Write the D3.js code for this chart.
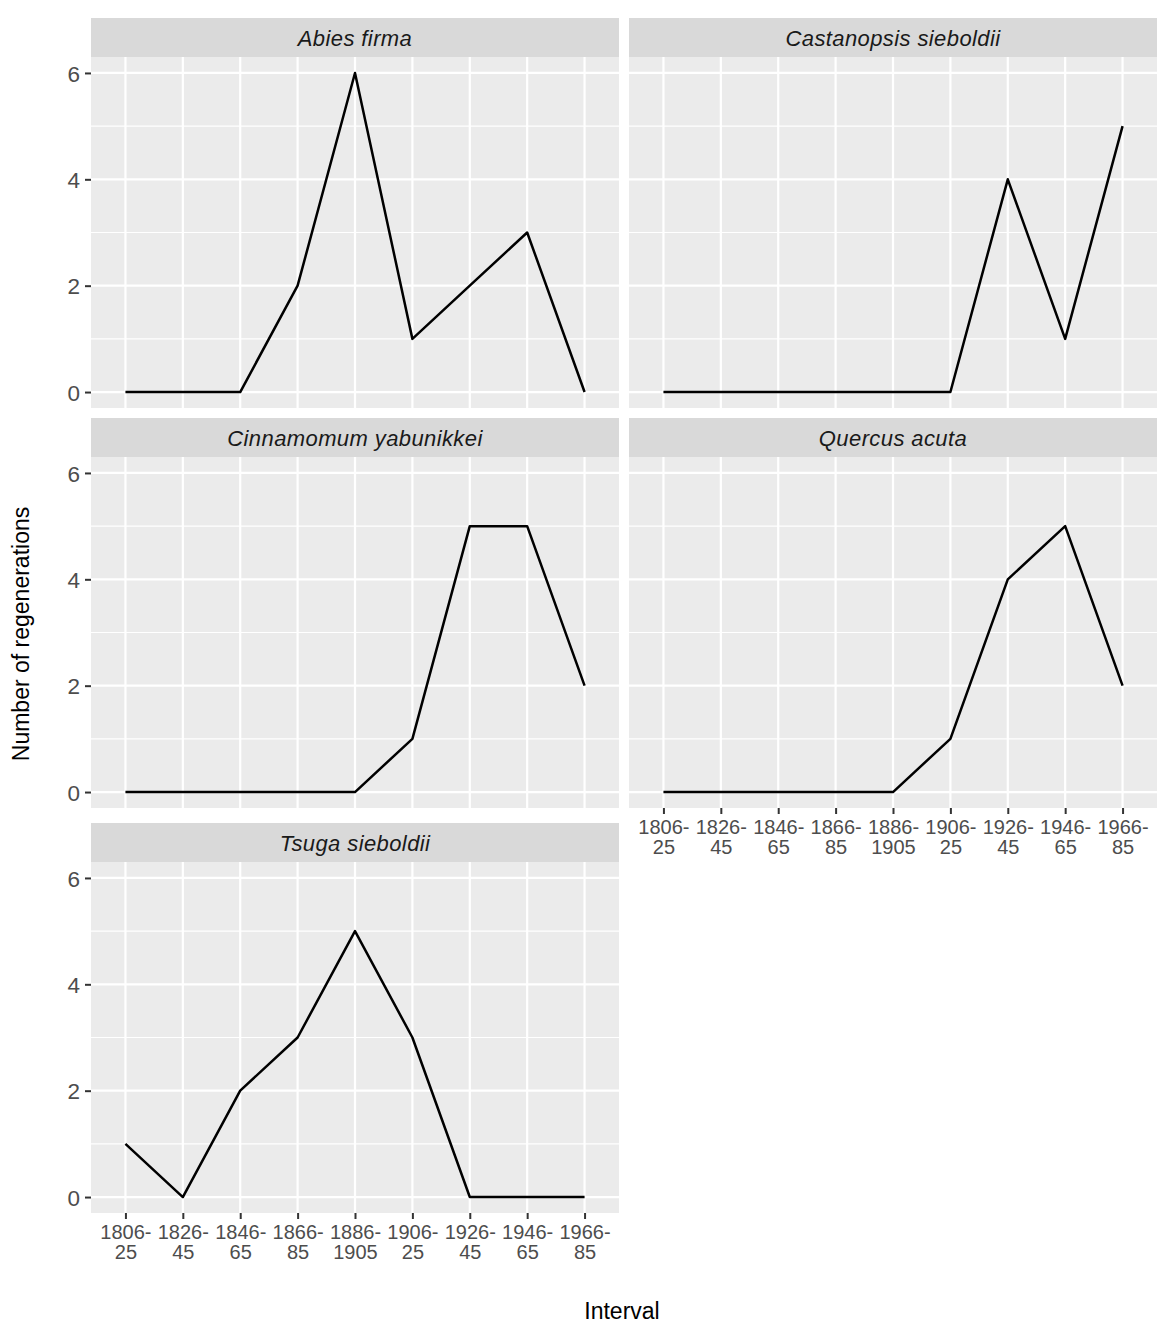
<!DOCTYPE html>
<html>
<head>
<meta charset="utf-8">
<script src="https://cdn.jsdelivr.net/npm/d3@7"></script>
<style>
  html, body { margin: 0; padding: 0; background: #fff; }
  svg { display: block; font-family: "Liberation Sans", Arial, sans-serif; }
</style>
</head>
<body>
<svg id="chart" width="1172" height="1337"></svg>
<script>
// ---- data ----
const intervals = ["1806-25","1826-45","1846-65","1866-85","1886-1905","1906-25","1926-45","1946-65","1966-85"];
const species = ["Abies firma","Castanopsis sieboldii","Cinnamomum yabunikkei","Quercus acuta","Tsuga sieboldii"];
const abiesFirma = [0,0,0,2,6,1,2,3,0];
const castanopsisSieboldii = [0,0,0,0,0,0,4,1,5];
const cinnamomumYabunikkei = [0,0,0,0,0,1,5,5,2];
const quercusAcuta = [0,0,0,0,0,1,4,5,2];
const tsugaSieboldii = [1,0,2,3,5,3,0,0,0];
const seriesValues = [abiesFirma, castanopsisSieboldii, cinnamomumYabunikkei, quercusAcuta, tsugaSieboldii];
const yMajorTicks = [0,2,4,6];
const yMinorTicks = [1,3,5];
const yDomain = [-0.3, 6.3];

// ---- layout ----
const svg = d3.select("#chart");
const colX = [[91, 619], [629, 1157]];
const stripTops = [18, 418, 823];
const stripH = 39;
const panelH = 351;

const x0 = d3.scalePoint().domain(intervals).padding(0.6);

species.forEach((name, i) => {
  const col = i % 2, row = Math.floor(i / 2);
  const [xl, xr] = colX[col];
  const sTop = stripTops[row];
  const pTop = sTop + stripH;
  const pBot = pTop + panelH;
  const x = x0.copy().range([xl, xr]);
  const y = d3.scaleLinear().domain(yDomain).range([pBot, pTop]);
  const g = svg.append("g");

  // strip
  g.append("rect").attr("x", xl).attr("y", sTop).attr("width", xr - xl).attr("height", stripH).attr("fill", "#D9D9D9");
  g.append("text").attr("x", (xl + xr) / 2).attr("y", sTop + stripH / 2 + 8)
    .attr("text-anchor", "middle").attr("font-size", 22).attr("font-style", "italic")
    .attr("letter-spacing", "0.4px").attr("fill", "#1A1A1A").text(name);

  // panel
  g.append("rect").attr("x", xl).attr("y", pTop).attr("width", xr - xl).attr("height", panelH).attr("fill", "#EBEBEB");

  // grid
  g.selectAll(".minor").data(yMinorTicks).join("line")
    .attr("x1", xl).attr("x2", xr).attr("y1", d => y(d)).attr("y2", d => y(d))
    .attr("stroke", "#fff").attr("stroke-width", 1.1);
  g.selectAll(".majorY").data(yMajorTicks).join("line")
    .attr("x1", xl).attr("x2", xr).attr("y1", d => y(d)).attr("y2", d => y(d))
    .attr("stroke", "#fff").attr("stroke-width", 2.2);
  g.selectAll(".majorX").data(intervals).join("line")
    .attr("x1", d => x(d)).attr("x2", d => x(d)).attr("y1", pTop).attr("y2", pBot)
    .attr("stroke", "#fff").attr("stroke-width", 2.2);

  // line
  const vals = seriesValues[i];
  const line = d3.line().x((d, j) => x(intervals[j])).y(d => y(d));
  g.append("path").datum(vals).attr("d", line).attr("fill", "none")
    .attr("stroke", "#000").attr("stroke-width", 2.5).attr("stroke-linejoin", "round");

  // y axis (left column only)
  if (col === 0) {
    const ya = g.append("g").attr("transform", `translate(${xl},0)`)
      .call(d3.axisLeft(y).tickValues(yMajorTicks).tickSize(6).tickPadding(5).tickFormat(d3.format("d")));
    ya.select(".domain").remove();
    ya.selectAll(".tick line").attr("stroke", "#333333").attr("stroke-width", 2);
    ya.selectAll(".tick text").attr("fill", "#4D4D4D").attr("font-size", 22.5)
      .attr("font-family", "Liberation Sans, Arial, sans-serif").attr("dy", "0.36em");
  }

  // x axis (bottom of each column)
  const hasXAxis = (i === 3) || (i === 4);
  if (hasXAxis) {
    const xa = g.append("g").attr("transform", `translate(0,${pBot})`)
      .call(d3.axisBottom(x).tickSize(6).tickPadding(0).tickFormat(""));
    xa.select(".domain").remove();
    xa.selectAll(".tick line").attr("stroke", "#333333").attr("stroke-width", 2);
    xa.selectAll(".tick text").remove();
    xa.selectAll(".tick").each(function(d) {
      const idx = d.indexOf("-");
      const parts = [d.slice(0, idx + 1), d.slice(idx + 1)];
      const t = d3.select(this).append("text")
        .attr("fill", "#4D4D4D").attr("font-size", 20).attr("text-anchor", "middle")
        .attr("font-family", "Liberation Sans, Arial, sans-serif");
      t.append("tspan").attr("x", 0).attr("y", 26).text(parts[0]);
      t.append("tspan").attr("x", 0).attr("y", 46).text(parts[1]);
    });
  }
});

// axis titles
svg.append("text").attr("x", 622).attr("y", 1319).attr("text-anchor", "middle")
  .attr("font-size", 23).attr("fill", "#000").text("Interval");
svg.append("text").attr("transform", "translate(29,634) rotate(-90)").attr("text-anchor", "middle")
  .attr("font-size", 23).attr("fill", "#000").text("Number of regenerations");
</script>
</body>
</html>
